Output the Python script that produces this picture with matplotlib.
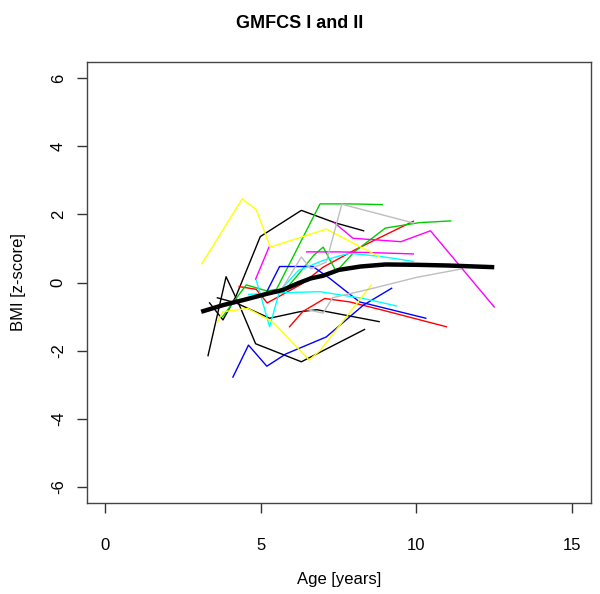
import matplotlib
matplotlib.use("Agg")
import matplotlib.pyplot as plt

plt.rcParams['font.family'] = ['Liberation Sans', 'DejaVu Sans']

# individual trajectories: (colour, ages, z-scores)
black_a_x = [3.3, 3.88, 4.3, 4.83, 6.3, 8.33]
black_a_y = [-2.15, 0.17, -0.65, -1.8, -2.33, -1.38]
black_b_x = [3.35, 3.78, 4.2, 4.98, 6.3, 7.4, 8.3]
black_b_y = [-0.6, -1.1, -0.4, 1.35, 2.12, 1.75, 1.52]
black_c_x = [3.6, 4.2, 5.28, 6.24, 6.8, 8.8]
black_c_y = [-0.45, -0.6, -1.05, -0.86, -0.8, -1.15]

red_a_x = [4.3, 4.85, 5.2, 5.5, 6.3, 7.0, 8.0, 9.0, 9.9]
red_a_y = [-0.12, -0.2, -0.6, -0.45, -0.05, 0.45, 0.95, 1.4, 1.8]
red_b_x = [5.92, 6.35, 7.05, 7.85, 8.9, 10.96]
red_b_y = [-1.3, -0.85, -0.47, -0.57, -0.81, -1.3]

green_a_x = [3.77, 4.53, 5.2, 5.5, 6.9, 7.85, 8.9]
green_a_y = [-1.0, -0.07, -0.25, -0.2, 2.31, 2.31, 2.29]
green_b_x = [5.7, 6.14, 6.7, 7.0, 7.42, 8.0, 9.0, 10.1, 11.1]
green_b_y = [-0.3, 0.17, 0.8, 1.04, 0.32, 0.9, 1.6, 1.76, 1.81]

blue_a_x = [4.1, 4.6, 5.19, 5.8, 7.1, 8.3, 9.2]
blue_a_y = [-2.78, -1.84, -2.46, -2.1, -1.6, -0.66, -0.17]
blue_b_x = [5.2, 5.6, 6.67, 7.2, 8.17, 10.3]
blue_b_y = [-0.25, 0.47, 0.47, 0.13, -0.57, -1.05]

cyan_a_x = [4.85, 5.28, 5.6, 6.2, 7.0, 7.85, 8.9, 9.9]
cyan_a_y = [0.07, -1.3, -0.25, 0.35, 0.65, 0.86, 0.76, 0.62]
cyan_b_x = [4.6, 5.7, 6.9, 8.3, 9.36]
cyan_b_y = [-0.35, -0.3, -0.27, -0.47, -0.69]

magenta_a_x = [4.83, 5.26]
magenta_a_y = [0.1, 1.04]
magenta_b_x = [7.37, 7.96, 9.5, 10.45, 12.5]
magenta_b_y = [1.75, 1.3, 1.2, 1.52, -0.72]
magenta_c_x = [6.47, 7.5, 8.5, 9.9]
magenta_c_y = [0.9, 0.9, 0.88, 0.84]

yellow_a_x = [3.1, 4.4, 4.85, 5.3, 7.1, 8.8]
yellow_a_y = [0.55, 2.46, 2.14, 1.04, 1.57, 0.76]
yellow_b_x = [3.6, 3.78, 4.58, 5.38, 6.55, 6.9, 8.55]
yellow_b_y = [-1.16, -0.86, -0.76, -1.16, -2.28, -2.0, -0.07]

gray_a_x = [5.6, 6.3, 6.6, 7.1, 7.6, 9.9]
gray_a_y = [-0.3, 0.75, 0.4, 0.6, 2.3, 1.75]
gray_b_x = [6.5, 7.0, 7.3, 8.6, 10.0, 11.45]
gray_b_y = [-0.8, -0.9, -0.45, -0.17, 0.15, 0.4]

mean_x = [3.08, 3.8, 4.5, 5.2, 5.7, 6.2, 6.6, 7.0, 7.5, 8.2, 9.0, 10.0, 11.0, 11.9, 12.5]
mean_y = [-0.86, -0.66, -0.5, -0.33, -0.22, -0.02, 0.12, 0.2, 0.37, 0.47, 0.53, 0.52, 0.5, 0.47, 0.45]

series = [
    ("black", black_a_x, black_a_y), ("black", black_b_x, black_b_y), ("black", black_c_x, black_c_y),
    ("red", red_a_x, red_a_y), ("red", red_b_x, red_b_y),
    ("#00CD00", green_a_x, green_a_y), ("#00CD00", green_b_x, green_b_y),
    ("blue", blue_a_x, blue_a_y), ("blue", blue_b_x, blue_b_y),
    ("cyan", cyan_a_x, cyan_a_y), ("cyan", cyan_b_x, cyan_b_y),
    ("magenta", magenta_a_x, magenta_a_y), ("magenta", magenta_b_x, magenta_b_y),
    ("magenta", magenta_c_x, magenta_c_y),
    ("yellow", yellow_a_x, yellow_a_y), ("yellow", yellow_b_x, yellow_b_y),
    ("#BEBEBE", gray_a_x, gray_a_y), ("#BEBEBE", gray_b_x, gray_b_y),
]

fig = plt.figure(figsize=(6.0, 5.94), dpi=100)
ax = fig.add_axes([0.1445, 0.1532, 0.84, 0.7424])

for col, xs, ys in series:
    ax.plot(xs, ys, color=col, lw=1.0)
ax.plot(mean_x, mean_y, color="black", lw=3.2, solid_capstyle="butt")

ax.set_xlim(-0.6, 15.6)
ax.set_ylim(-6.48, 6.48)
ax.set_xticks([0, 5, 10, 15])
ax.set_yticks([-6, -4, -2, 0, 2, 4, 6])
ax.set_yticklabels(["-6", "-4", "-2", "0", "2", "4", "6"], rotation=90, va="center")
ax.tick_params(direction="out", length=7, width=1, color="#333333", labelsize=12)
ax.tick_params(axis="x", pad=18)
ax.tick_params(axis="y", pad=8)
for s in ax.spines.values():
    s.set_color("#444444")
    s.set_linewidth(1)

ax.set_xlabel("Age [years]", fontsize=12, labelpad=14)
ax.set_ylabel("BMI [z-score]", fontsize=12, labelpad=18)
fig.suptitle("GMFCS I and II", fontsize=13, fontweight="bold", y=0.975)

fig.savefig("out.png", dpi=100)
